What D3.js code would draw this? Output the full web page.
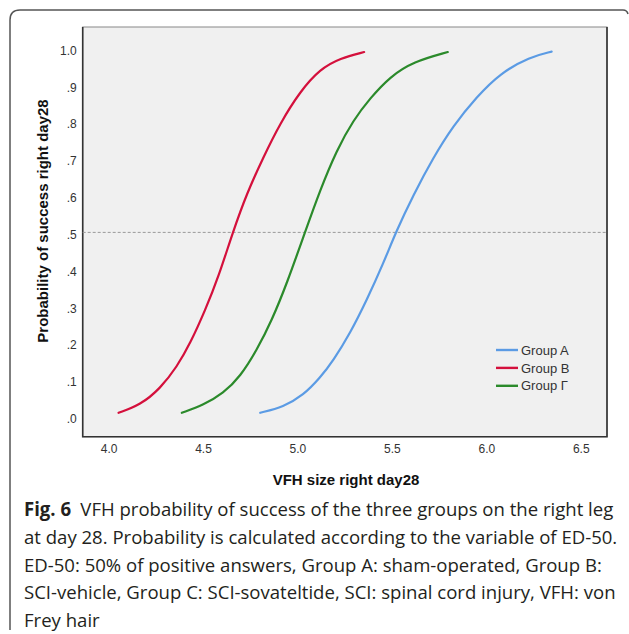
<!DOCTYPE html>
<html>
<head>
<meta charset="utf-8">
<script src="https://cdn.jsdelivr.net/npm/d3@7"></script>
<style>
  body { margin: 0; background: #fff; }
  svg { display: block; }
  .tick text { font-family: "Liberation Sans", Arial, sans-serif; font-size: 12px; fill: #333; }
  .title { font-family: "Liberation Sans", Arial, sans-serif; font-size: 15px; font-weight: bold; fill: #111; }
  .legend text { font-family: "Liberation Sans", Arial, sans-serif; font-size: 13px; fill: #333; }
  .caption { font-family: "Open Sans", "Noto Sans", sans-serif; font-size: 19px; fill: #231f20; }
</style>
</head>
<body>
<svg id="chart"></svg>
<script>

/// DATA ////////////////////////////////////////////////////////////////////////////////

// [VFH size, probability]
var groupA = [[4.803, 0.010], [4.926, 0.026], [5.032, 0.058], [5.120, 0.105], [5.190, 0.152],
              [5.279, 0.226], [5.367, 0.316], [5.455, 0.416], [5.522, 0.502], [5.614, 0.602],
              [5.720, 0.704], [5.825, 0.790], [5.949, 0.868], [6.072, 0.932], [6.231, 0.977],
              [6.346, 0.991]];
var groupB = [[4.053, 0.010], [4.168, 0.031], [4.274, 0.076], [4.362, 0.135], [4.432, 0.198],
              [4.512, 0.289], [4.582, 0.379], [4.658, 0.501], [4.732, 0.606], [4.820, 0.705],
              [4.908, 0.796], [5.014, 0.883], [5.120, 0.944], [5.226, 0.973], [5.353, 0.990]];
var groupC = [[4.388, 0.010], [4.503, 0.031], [4.608, 0.063], [4.697, 0.108], [4.785, 0.180],
              [4.865, 0.262], [4.944, 0.361], [5.041, 0.502], [5.120, 0.615], [5.208, 0.724],
              [5.296, 0.805], [5.384, 0.864], [5.490, 0.923], [5.614, 0.964], [5.796, 0.990]];

var groupNames = ["Group A", "Group B", "Group \u0393"];
var xTicks = [4.0, 4.5, 5.0, 5.5, 6.0, 6.5];
var yTicks = [0, 0.1, 0.2, 0.3, 0.4, 0.5, 0.6, 0.7, 0.8, 0.9, 1.0];
var refLine = 0.5;

var captionBold = "Fig. 6";
var captionLines = [
    "VFH probability of success of the three groups on the right leg",
    "at day 28. Probability is calculated according to the variable of ED-50.",
    "ED-50: 50% of positive answers, Group A: sham-operated, Group B:",
    "SCI-vehicle, Group C: SCI-sovateltide, SCI: spinal cord injury, VFH: von",
    "Frey hair"
];

/// SETUP ///////////////////////////////////////////////////////////////////////////////

var WIDTH = 629, HEIGHT = 634;
var PLOT_LEFT = 82.7, PLOT_TOP = 27, PLOT_RIGHT = 607, PLOT_BOTTOM = 436.7;
var COLORS = ["#5b9be4", "#d4103c", "#2b8a2b"];

var svg = d3.select('#chart').attr('width', WIDTH).attr('height', HEIGHT);

var x = d3.scaleLinear().domain([3.863, 6.639]).range([PLOT_LEFT, PLOT_RIGHT]);
var y = d3.scaleLinear().domain([-0.055, 1.058]).range([PLOT_BOTTOM, PLOT_TOP]);

// figure frame (top-left bracket)
svg.append('path')
    .attr('d', 'M10,630 V20 Q10,10 20,10 H623 Q627,10 628,14')
    .attr('fill', 'none')
    .attr('stroke', '#555')
    .attr('stroke-width', 1.5);

// plot background
svg.append('rect')
    .attr('x', PLOT_LEFT).attr('y', PLOT_TOP)
    .attr('width', PLOT_RIGHT - PLOT_LEFT).attr('height', PLOT_BOTTOM - PLOT_TOP)
    .attr('fill', '#f0f0f0')
    .attr('stroke', '#888')
    .attr('stroke-width', 1);

// darker right/bottom edges
svg.append('path')
    .attr('d', 'M' + PLOT_RIGHT + ',' + PLOT_TOP + ' V' + PLOT_BOTTOM + ' H' + PLOT_LEFT + ' V' + PLOT_TOP)
    .attr('fill', 'none')
    .attr('stroke', '#333')
    .attr('stroke-width', 1.6);

/// AXES ////////////////////////////////////////////////////////////////////////////////

var yAxis = svg.append('g')
    .attr('transform', 'translate(' + PLOT_LEFT + ',0)')
    .call(d3.axisLeft(y).tickValues(yTicks).tickSize(0).tickPadding(6)
        .tickFormat(function (d) { return d === 1 ? '1.0' : d3.format('.1f')(d).replace(/^0/, ''); }));
yAxis.select('.domain').remove();
yAxis.selectAll('text').attr('dy', '0.5em');

var xAxis = svg.append('g')
    .attr('transform', 'translate(0,' + PLOT_BOTTOM + ')')
    .call(d3.axisBottom(x).tickValues(xTicks).tickSize(0).tickPadding(8).tickFormat(d3.format('.1f')));
xAxis.select('.domain').remove();

svg.append('text')
    .attr('class', 'title')
    .attr('x', 346).attr('y', 484.5)
    .attr('text-anchor', 'middle')
    .text('VFH size right day28');

svg.append('text')
    .attr('class', 'title')
    .attr('transform', 'translate(48,221) rotate(-90)')
    .attr('text-anchor', 'middle')
    .text('Probability of success right day28');

/// LINES ///////////////////////////////////////////////////////////////////////////////

svg.append('line')
    .attr('x1', PLOT_LEFT).attr('x2', PLOT_RIGHT)
    .attr('y1', y(refLine)).attr('y2', y(refLine))
    .attr('stroke', '#9a9a9a')
    .attr('stroke-width', 1)
    .attr('stroke-dasharray', '3,2');

var line = d3.line()
    .x(function (d) { return x(d[0]); })
    .y(function (d) { return y(d[1]); })
    .curve(d3.curveBasis);

[groupA, groupB, groupC].forEach(function (g, i) {
    svg.append('path')
        .datum(g)
        .attr('d', line)
        .attr('fill', 'none')
        .attr('stroke', COLORS[i])
        .attr('stroke-width', 2.2)
        .attr('stroke-linecap', 'round');
});

/// LEGEND //////////////////////////////////////////////////////////////////////////////

var legend = svg.append('g').attr('class', 'legend')
    .selectAll('g')
    .data(groupNames)
    .enter()
    .append('g')
        .attr('transform', function (d, i) { return 'translate(496,' + (350 + i * 17.9) + ')'; });

legend.append('line')
    .attr('x1', 0).attr('x2', 22)
    .attr('stroke', function (d, i) { return COLORS[i]; })
    .attr('stroke-width', 2.4);

legend.append('text')
    .attr('x', 25).attr('dy', '0.36em')
    .text(function (d) { return d; });

/// CAPTION /////////////////////////////////////////////////////////////////////////////

var caption = svg.append('g').attr('class', 'caption');

captionLines.forEach(function (t, i) {
    var txt = caption.append('text')
        .attr('x', 0).attr('y', i * 27.8);
    if (i === 0) {
        txt.append('tspan').attr('font-weight', 'bold').text(captionBold);
        txt.append('tspan').text('\u2002' + t);
    } else {
        txt.text(t);
    }
});

// squeeze caption so the first line fits the same width as in the figure
var firstWidth = caption.select('text').node().getComputedTextLength();
var sx = 590 / firstWidth;
caption.attr('transform', 'translate(24,516) scale(' + sx + ',1)');

</script>
</body>
</html>
